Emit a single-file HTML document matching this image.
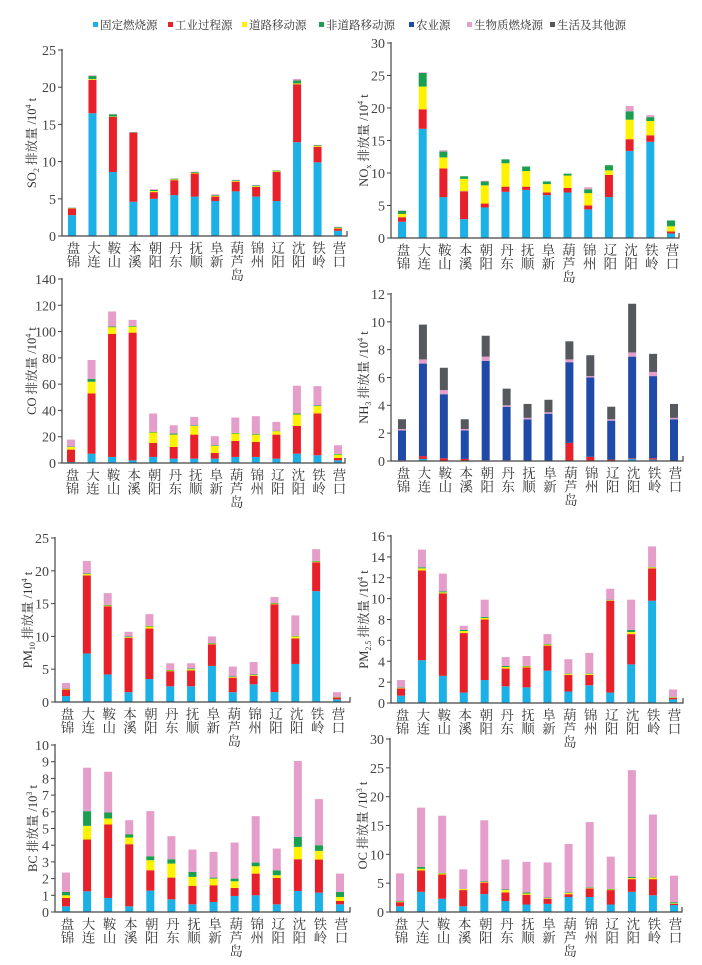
<!DOCTYPE html>
<html><head><meta charset="utf-8"><style>
html,body{margin:0;padding:0;background:#fff;}
svg{display:block;font-family:"Liberation Serif","Noto Serif CJK SC",serif;}
.cat{writing-mode:vertical-rl;font-size:13.5px;fill:#333;}
</style></head><body>
<svg id="chart" width="702" height="965" viewBox="0 0 702 965" xmlns="http://www.w3.org/2000/svg">
<g id="legend"></g>
<g id="panels"></g>
</svg>
<script>
const cities = ["盘锦","大连","鞍山","本溪","朝阳","丹东","抚顺","阜新","葫芦岛","锦州","辽阳","沈阳","铁岭","营口"];
const seriesNames = ["固定燃烧源","工业过程源","道路移动源","非道路移动源","农业源","生物质燃烧源","生活及其他源"];
const seriesColors = ["#1bb0e6","#e8202a","#fff200","#1a9f50","#1f4aa8","#e59ec9","#55595e"];
const Z = [0,0,0,0,0,0,0,0,0,0,0,0,0,0];

const so2_fixed = [2.8,16.5,8.6,4.6,5.0,5.5,5.3,4.7,6.0,5.3,4.7,12.6,9.9,0.7];
const so2_ind = [0.9,4.5,7.4,9.3,0.9,2.0,3.1,0.6,1.3,1.3,3.9,7.8,2.1,0.3];
const so2_road = [0.05,0.1,0.05,0,0.15,0.1,0.1,0.1,0.1,0.1,0.1,0.1,0.1,0.1];
const so2_nonroad = [0.05,0.4,0.3,0.05,0.15,0.1,0.1,0.1,0.1,0.1,0.1,0.4,0.1,0.1];
const so2_bio = [0,0.1,0.05,0,0.1,0.05,0.05,0.1,0.05,0.05,0,0.2,0.05,0.05];

const nox_fixed = [2.5,16.8,6.3,2.9,4.7,7.1,7.4,6.6,7.0,4.4,6.3,13.4,14.8,0.7];
const nox_ind = [0.7,3.0,4.4,4.3,0.6,0.8,0.5,0.4,0.7,0.6,3.4,1.8,1.0,0.3];
const nox_road = [0.5,3.5,1.7,1.9,2.8,3.6,2.4,1.3,1.9,1.9,0.7,3.0,2.2,0.8];
const nox_nonroad = [0.5,2.1,0.9,0.4,0.6,0.6,0.7,0.4,0.3,0.6,0.8,1.3,0.6,0.9];
const nox_bio = [0.05,0.1,0.2,0,0.1,0,0,0,0,0.3,0,0.8,0.3,0];

const co_fixed = [0.8,7.1,4.6,2,4.6,3.3,3.3,3.3,4.6,4.6,3.3,7.1,5.9,2];
const co_ind = [9.4,45.8,93.6,97.2,10.7,8.9,18.3,4.3,12.2,11.4,18.3,21.1,31.8,1.8];
const co_road = [2,8.9,5.1,4.6,7.9,9.4,6.6,5.4,5.6,5.6,2.6,8.7,5.6,2.6];
const co_nonroad = [0.3,2.1,0.6,0.5,0.5,0.8,0.5,0.5,0.5,0.6,0.4,0.8,0.5,0.5];
const co_bio = [5.3,14.5,11.4,4.6,14,6.3,6.4,6.9,11.7,13.4,6.7,21.1,14.7,6.6];

const nh3_fixed = [0,0.15,0,0,0,0,0,0,0,0,0,0.15,0.1,0];
const nh3_ind = [0.05,0.2,0.2,0.15,0.05,0.05,0,0,1.3,0.3,0.1,0.05,0.1,0];
const nh3_agri = [2.15,6.65,4.6,2.05,7.15,3.85,3.0,3.4,5.8,5.7,2.8,7.3,5.9,3.0];
const nh3_bio = [0.1,0.3,0.3,0.1,0.3,0.1,0.1,0.1,0.2,0.1,0.1,0.3,0.3,0.1];
const nh3_other = [0.7,2.5,1.6,0.7,1.5,1.2,1.0,0.9,1.3,1.5,0.9,3.5,1.3,1.0];

const pm10_fixed = [0.9,7.4,4.2,1.5,3.5,2.4,2.4,5.5,1.5,2.7,1.5,5.8,16.9,0.4];
const pm10_ind = [1.0,11.9,10.4,8.3,7.7,2.3,2.4,3.3,2.2,1.3,13.4,3.9,4.4,0.3];
const pm10_road = [0.1,0.2,0.1,0.1,0.3,0.1,0.2,0.1,0.1,0.1,0.1,0.3,0.1,0.05];
const pm10_nonroad = [0.05,0.1,0.1,0.1,0.1,0.1,0.1,0.1,0.1,0.1,0.1,0.1,0.1,0.05];
const pm10_bio = [0.85,1.9,1.8,0.7,1.8,1.0,0.8,1.0,1.5,1.9,0.9,3.1,1.8,0.7];

const pm25_fixed = [0.7,4.1,2.6,1.0,2.2,1.6,1.5,3.1,1.1,1.7,1.0,3.7,9.8,0.35];
const pm25_ind = [0.7,8.6,7.9,5.7,5.8,1.7,1.9,2.4,1.6,1.0,8.8,2.9,3.1,0.15];
const pm25_road = [0.05,0.2,0.1,0.2,0.15,0.15,0.1,0.1,0.1,0.1,0.05,0.2,0.1,0.05];
const pm25_nonroad = [0.05,0.1,0.1,0.1,0.1,0.1,0.05,0.05,0.05,0.05,0.05,0.2,0.05,0.05];
const pm25_bio = [0.7,1.7,1.7,0.4,1.65,0.85,0.95,0.95,1.35,1.95,1.05,2.9,1.95,0.7];

const bc_fixed = [0.34,1.24,0.84,0.34,1.28,0.76,0.46,0.6,0.96,1.0,0.46,1.26,1.16,0.46];
const bc_ind = [0.5,3.1,4.4,3.72,1.22,1.3,1.1,1.0,0.48,1.3,1.58,1.9,1.98,0.2];
const bc_road = [0.16,0.82,0.36,0.4,0.6,0.84,0.54,0.4,0.4,0.44,0.16,0.74,0.52,0.24];
const bc_nonroad = [0.2,0.88,0.36,0.2,0.24,0.26,0.3,0.06,0.16,0.22,0.3,0.6,0.34,0.3];
const bc_bio = [1.16,2.6,2.44,0.84,2.7,1.38,1.34,1.54,2.16,2.78,1.3,4.54,2.76,1.1];

const oc_fixed = [1.0,3.5,2.3,1.0,3.1,1.9,1.3,1.4,2.6,2.6,1.3,3.5,2.9,1.2];
const oc_ind = [0.7,3.7,4.2,2.8,2.0,1.5,1.7,0.9,0.5,1.5,2.5,2.2,2.8,0.2];
const oc_road = [0.1,0.3,0.2,0.2,0.1,0.4,0.2,0.1,0.2,0.1,0.1,0.2,0.3,0.1];
const oc_nonroad = [0.1,0.3,0.1,0.0,0.1,0.1,0.2,0.1,0.1,0.1,0.1,0.2,0.1,0.2];
const oc_bio = [4.8,10.3,9.9,3.4,10.6,5.2,5.3,6.1,8.4,11.3,5.6,18.5,10.8,4.6];

const NS = "http://www.w3.org/2000/svg";
function mk(tag, attrs, parent){
  const e = document.createElementNS(NS, tag);
  for (const k in attrs) e.setAttribute(k, attrs[k]);
  parent.appendChild(e);
  return e;
}

const lg = document.getElementById("legend");
const legX = [97,172,246,323,413,471,554];
seriesNames.forEach((n,i)=>{
  const g = mk("g",{},lg);
  
  
  mk("rect",{x:legX[i]-4,y:22,width:5,height:5,fill:seriesColors[i]},g);
  const t = mk("text",{x:legX[i]+3,y:29,"font-size":11.5,fill:"#333"},g);
  t.textContent = n;
});

const panels = [
 {id:"so2", label:["SO","2"," 排放量 /10","4"," t"], x0:62,x1:347,yT:50,yB:236,max:25,step:5,first:72,last:338,tx:32,
  data:[so2_fixed,so2_ind,so2_road,so2_nonroad,Z,so2_bio,Z]},
 {id:"nox", label:["NO","x"," 排放量 /10","4"," t"], x0:391,x1:679,yT:43,yB:238,max:30,step:5,first:402,last:671,tx:364,
  data:[nox_fixed,nox_ind,nox_road,nox_nonroad,Z,nox_bio,Z]},
 {id:"co", label:["CO 排放量 /10","","","4"," t"], x0:62,x1:345,yT:279,yB:463,max:140,step:20,first:71,last:338,tx:32,
  data:[co_fixed,co_ind,co_road,co_nonroad,Z,co_bio,Z]},
 {id:"nh3", label:["NH","3"," 排放量 /10","4"," t"], x0:391,x1:683,yT:294,yB:461,max:12,step:2,first:402,last:674,tx:364,
  data:[nh3_fixed,nh3_ind,Z,Z,nh3_agri,nh3_bio,nh3_other]},
 {id:"pm10", label:["PM","10"," 排放量 /10","4"," t"], x0:55,x1:350,yT:538,yB:702,max:25,step:5,first:66,last:337,tx:28,
  data:[pm10_fixed,pm10_ind,pm10_road,pm10_nonroad,Z,pm10_bio,Z]},
 {id:"pm25", label:["PM","2.5"," 排放量 /10","4"," t"], x0:391,x1:683,yT:536,yB:703,max:16,step:2,first:401,last:673,tx:364,
  data:[pm25_fixed,pm25_ind,pm25_road,pm25_nonroad,Z,pm25_bio,Z]},
 {id:"bc", label:["BC 排放量 /10","","","3"," t"], x0:55,x1:350,yT:745,yB:912,max:10,step:1,first:66,last:340,tx:33,
  data:[bc_fixed,bc_ind,bc_road,bc_nonroad,Z,bc_bio,Z]},
 {id:"oc", label:["OC 排放量 /10","","","3"," t"], x0:390,x1:682,yT:739,yB:912,max:30,step:5,first:400,last:674,tx:363,
  data:[oc_fixed,oc_ind,oc_road,oc_nonroad,Z,oc_bio,Z]}
];

const root = document.getElementById("panels");
panels.forEach(p=>{
  const g = mk("g",{},root);
  
  
  const yS = v => p.yB - v/p.max*(p.yB-p.yT);
  const xS = i => p.first + i*(p.last-p.first)/(cities.length-1);
  cities.forEach((c,i)=>{
    let acc = 0;
    p.data.forEach((arr,s)=>{
      const v = arr[i];
      if (v<=0) return;
      const y1 = yS(acc), y2 = yS(acc+v);
      acc += v;
      const r = mk("rect",{x:xS(i)-4,y:y2,width:8,height:Math.max(0.3,y1-y2),fill:seriesColors[s]},g);
      
      
    });
    const t = mk("text",{x:xS(i),y:p.yB+5,class:"cat"},g);
    
    
    t.textContent = c;
  });
  const ax = mk("path",{d:`M${p.x0} ${p.yT-1} L${p.x0} ${p.yB} L${p.x1} ${p.yB} L${p.x1} ${p.yB-5}`,stroke:"#444","stroke-width":1.2,fill:"none"},g);
  
  
  for (let v=0; v<=p.max+1e-9; v+=p.step){
    const y = yS(v);
    mk("line",{x1:p.x0-4,x2:p.x0,y1:y,y2:y,stroke:"#444","stroke-width":1},g);
    const t = mk("text",{x:p.x0-6,y:y+5,"font-size":14,"text-anchor":"end",fill:"#444"},g);
    
    
    t.textContent = v;
  }
  const cy = (p.yT+p.yB)/2;
  const tt = mk("text",{x:0,y:0,"font-size":12.5,fill:"#333","text-anchor":"middle",transform:`translate(${p.tx+4},${cy}) rotate(-90)`},g);
  
  
  const L = p.label;
  const a = mk("tspan",{},tt); a.textContent = L[0];
  if (L[1]) { const s = mk("tspan",{"font-size":8,dy:3},tt); s.textContent = L[1]; }
  const b = mk("tspan",{dy: L[1]?-3:0},tt); b.textContent = L[2];
  const sp = mk("tspan",{"font-size":8,dy:-5},tt); sp.textContent = L[3];
  const e = mk("tspan",{dy:5},tt); e.textContent = L[4];
});
</script>
</body></html>
